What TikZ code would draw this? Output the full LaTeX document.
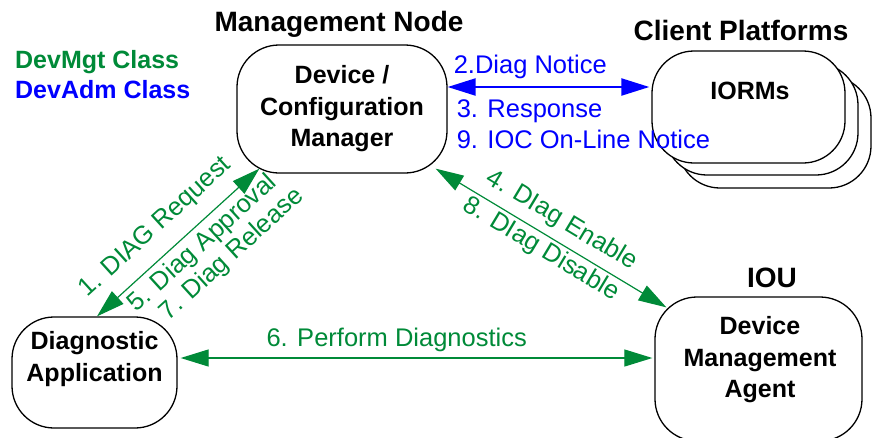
\documentclass[tikz,border=0pt]{standalone}
\usepackage{fontspec}
\setmainfont{Liberation Sans}
\usepackage{xcolor}
\usetikzlibrary{arrows.meta}

\definecolor{mgtgreen}{RGB}{0,138,56}
\definecolor{admblue}{RGB}{0,0,255}

\begin{document}
\begin{tikzpicture}[x=1pt, y=-1pt,
		box/.style={draw, line width=1.3pt, rounded corners=42pt, fill=white},
		boxtext/.style={font=\bfseries\fontsize{25}{31.5}\selectfont, align=center, inner sep=0pt},
		title/.style={font=\bfseries\fontsize{28}{32}\selectfont, inner sep=0pt, anchor=base},
		msg/.style={font=\fontsize{25.5}{31}\selectfont, inner sep=0pt},
		mgt/.style={draw=mgtgreen, text=mgtgreen, line width=1.2pt, <->},
		adm/.style={draw=admblue, text=admblue, line width=2.2pt, <->},
		>={Triangle[length=28pt, width=17pt]}]
	\useasboundingbox (0,0) rectangle (873,437);

	% legend
	\node[boxtext, text=mgtgreen, anchor=base west] (mgtkey) at (15,68) {DevMgt Class};
	\node[boxtext, text=admblue, anchor=base west] (admkey) at (15,98) {DevAdm Class};

	% Management Node
	\node[title] (mgmttitle) at (339,31) {Management Node};
	\node[box, boxtext, minimum width=210pt, minimum height=128pt] (mgmt) at (342,109) {Device /\\Configuration\\Manager};

	% Client Platforms
	\node[title] (clienttitle) at (741,40) {Client Platforms};
	\node[box, minimum width=193pt, minimum height=112pt] (iorm3) at (774.5,132) {};
	\node[box, minimum width=193pt, minimum height=112pt] (iorm2) at (761.5,119) {};
	\node[box, minimum width=193pt, minimum height=112pt] (iorms) at (748.5,107) {};
	\node[boxtext] (iormslabel) at (750,91) {IORMs};

	% Diagnostic Application
	\node[box, minimum width=165pt, minimum height=111pt] (diag) at (94.5,372.5) {};
	\node[boxtext] (diaglabel) at (94.5,359) {Diagnostic\\Application};

	% IOU
	\node[title] (ioutitle) at (772,287) {IOU};
	\node[box, minimum width=207pt, minimum height=144pt] (dma) at (758.5,369) {};
	\node[boxtext] (dmalabel) at (760,360) {Device\\Management\\Agent};

	% DevAdm messages
	\draw[adm] ([shift={(0,-22)}]mgmt.east) -- ([shift={(-2,-20)}]iorms.west)
		node[msg, pos=0, anchor=base west, xshift=5pt, yshift=14pt] (notice) {2.Diag Notice}
		node[msg, pos=0, anchor=north west, align=left, xshift=8pt, yshift=-12pt] (response) {3. Response\\9. IOC On-Line Notice};

	% DevMgt messages
	\draw[mgt] ([shift={(2.5,0)}]diag.north) -- ([shift={(23,-5)}]mgmt.south west)
		node[msg, sloped, pos=0.47, above=14pt] (request) {1. DIAG Request}
		node[msg, sloped, pos=0.58, below=5pt] (approval) {5. Diag Approval}
		node[msg, sloped, pos=0.645, below=33pt] (release) {7. Diag Release};
	\draw[mgt] ([shift={(-12,-5)}]mgmt.south east) -- ([shift={(12,11)}]dma.north west)
		node[msg, sloped, pos=0.5, above=8pt] (enable) {4. DIag Enable}
		node[msg, sloped, pos=0.49, below=2.5pt] (disable) {8. DIag Disable};
	\draw[mgt] ([shift={(3,-14.5)}]diag.east) -- ([shift={(-2,-11)}]dma.west)
		node[msg, pos=0.458, above=6pt] (perform) {6. Perform Diagnostics};
\end{tikzpicture}
\end{document}
